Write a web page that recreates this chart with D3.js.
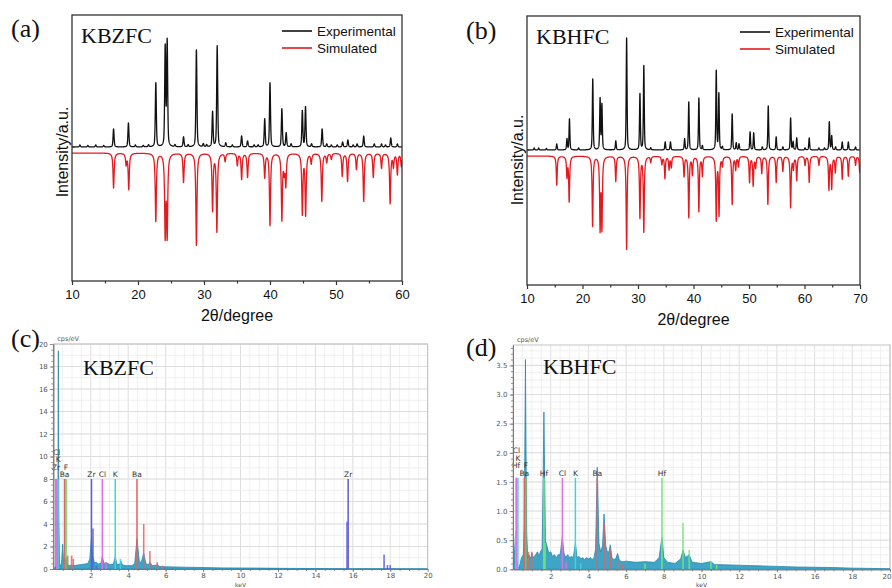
<!DOCTYPE html>
<html><head><meta charset="utf-8">
<script src="https://cdn.jsdelivr.net/npm/d3@7"></script>
<style>
html,body{margin:0;padding:0;background:#fff;}
svg{display:block;}
</style></head>
<body>
<svg id="fig" width="892" height="588"></svg>
<script>
// ---------------- XRD patterns: peak list [2θ (deg), height (a.u.)] ----------------
const xrdTicksA = [10, 20, 30, 40, 50, 60];
const xrdTicksB = [10, 20, 30, 40, 50, 60, 70];
const legendLabels = ["Experimental", "Simulated"];

const kbzfcExpPeaks = [
  [11.2,2],[12.4,1.5],[13.6,2],[14.8,1.5],[16.3,18],[18.55,24],[19.6,2],[20.8,1.5],[21.6,2],
  [22.7,64],[24.12,99],[24.42,105],[25.6,2],[26.9,10],[27.6,2],[28.85,97],[29.9,3],[30.4,2],
  [31.3,35],[32.0,101],[33.3,4],[34.3,2],[35.7,11],[36.6,6],[37.6,2],[38.2,2],[39.2,28],
  [40.0,64],[41.8,38],[42.45,14],[43.2,3],[44.9,36],[45.38,40],[46.3,3],[47.9,18],[48.6,3],
  [49.3,2],[50.2,2],[51.0,5],[51.8,7],[52.6,2],[53.2,3],[54.2,11],[55.8,3],[56.9,3],
  [57.5,2],[58.3,9],[59.3,3]
];
const kbzfcSimPeaks = [
  [16.3,35],[18.2,11],[18.6,36],[22.7,68],[24.12,80],[24.42,80],[26.9,29],[28.85,92],
  [31.3,57],[31.95,78],[33.2,8],[35.05,12],[35.7,26],[36.6,24],[39.2,24],[40.0,72],
  [41.8,66],[42.15,16],[42.4,31],[44.9,60],[45.4,61],[46.25,10],[47.85,48],[48.6,9],
  [49.3,6],[50.95,23],[51.75,28],[53.1,16],[54.2,48],[55.65,24],[56.9,15],[58.2,50],
  [58.7,13],[59.3,21],[59.9,13]
];
const kbhfcExpPeaks = [
  [11.3,2],[12.1,2],[13.5,1.5],[15.36,6],[17.2,11],[17.65,31],[19.3,2],[21.85,71],[23.17,51],
  [23.5,45],[26.0,9],[27.95,112],[30.35,56],[31.05,84],[32.3,2],[34.9,8],[35.85,8],[38.4,11],
  [39.15,48],[40.97,52],[41.6,4],[44.1,79],[44.57,56],[45.2,3],[46.97,36],[47.7,7],[48.2,6],
  [50.2,18],[50.85,17],[52.4,3],[53.47,44],[54.9,13],[56.1,3],[57.5,32],[57.95,8],[58.6,12],
  [60.1,2],[60.85,12],[62.6,2],[63.6,2],[64.47,28],[64.9,14],[65.6,3],[66.8,8],[67.9,8],[69.2,3]
];
const kbhfcSimPeaks = [
  [15.36,29],[17.2,20],[17.6,45],[21.82,70],[23.17,71],[23.5,70],[26.0,25],[27.95,93],
  [30.35,61],[31.05,75],[32.3,6],[34.3,8],[34.85,22],[35.6,13],[36.0,11],[38.3,20],
  [39.15,61],[39.8,18],[40.97,55],[41.6,19],[44.1,63],[44.6,58],[45.2,9],[46.97,48],
  [47.6,13],[48.1,10],[50.1,26],[50.75,29],[51.2,11],[52.3,17],[53.4,48],[54.9,26],
  [56.1,15],[57.5,51],[58.0,12],[58.6,24],[60.1,9],[60.85,26],[62.6,9],[64.4,33],
  [64.9,32],[65.55,16],[66.8,23],[67.9,20],[69.2,9],[69.95,16]
];

// ---------------- EDS spectra: [energy (keV), counts (cps/eV)] ----------------
const edsTicks = [2, 4, 6, 8, 10, 12, 14, 16, 18, 20];
const kbzfcSpectrum = [
  [0,0],[0.2,0.3],[0.25,8],[0.27,19.4],[0.29,6],[0.33,0.5],[0.4,0.2],[0.45,0.8],[0.5,2.2],
  [0.55,0.6],[0.62,0.5],[0.68,1.0],[0.74,0.4],[0.85,0.3],[0.95,0.35],[1.1,0.3],[1.3,0.35],
  [1.5,0.4],[1.7,0.45],[1.85,0.5],[1.95,0.9],[2.04,2.9],[2.1,1.2],[2.2,0.55],[2.3,0.6],
  [2.4,0.45],[2.55,0.5],[2.62,1.15],[2.7,0.5],[2.85,0.55],[3.0,0.4],[3.2,0.4],[3.31,1.1],
  [3.4,0.4],[3.55,0.4],[3.6,0.7],[3.7,0.35],[3.9,0.3],[4.2,0.3],[4.35,0.5],[4.47,2.7],
  [4.6,0.6],[4.7,0.6],[4.83,1.4],[4.95,0.45],[5.1,0.4],[5.16,0.6],[5.3,0.3],[5.55,0.35],
  [5.7,0.22],[6,0.2],[7,0.16],[8,0.13],[9,0.1],[10,0.09],[11,0.08],[12,0.06],[13,0.05],
  [14,0.04],[15,0.03],[16,0.02],[18,0.02],[20,0.01]
];
const kbhfcSpectrum = [
  [0,0],[0.05,0.1],[0.1,0.4],[0.14,0.65],[0.18,0.2],[0.25,0.05],[0.3,0.02],[0.38,0.1],
  [0.45,0.2],[0.55,0.25],[0.6,0.8],[0.66,3.6],[0.72,0.7],[0.78,0.2],[0.85,0.25],[0.95,0.18],
  [1.0,0.28],[1.08,0.2],[1.2,0.25],[1.3,0.3],[1.38,0.22],[1.45,0.3],[1.55,0.35],[1.64,2.7],
  [1.72,0.5],[1.8,0.4],[1.9,0.28],[2.0,0.3],[2.1,0.22],[2.2,0.25],[2.3,0.2],[2.4,0.25],
  [2.5,0.25],[2.62,0.55],[2.7,0.28],[2.8,0.2],[2.9,0.25],[3.0,0.2],[3.1,0.22],[3.2,0.2],
  [3.31,0.45],[3.4,0.2],[3.5,0.22],[3.6,0.18],[3.7,0.2],[3.8,0.17],[3.9,0.2],[4.0,0.18],
  [4.1,0.2],[4.2,0.17],[4.3,0.2],[4.38,0.35],[4.47,1.75],[4.56,0.45],[4.65,0.3],[4.75,0.4],
  [4.83,0.95],[4.92,0.4],[5.0,0.3],[5.1,0.3],[5.16,0.42],[5.25,0.2],[5.35,0.17],[5.45,0.18],
  [5.55,0.27],[5.65,0.15],[5.8,0.13],[6,0.14],[6.5,0.12],[7,0.13],[7.5,0.12],[7.75,0.2],
  [7.9,0.55],[8.0,0.2],[8.2,0.12],[8.6,0.1],[8.9,0.18],[9.02,0.33],[9.15,0.2],[9.35,0.25],
  [9.5,0.12],[10,0.1],[10.5,0.13],[10.7,0.08],[11,0.08],[12,0.07],[13,0.06],[14,0.05],
  [15,0.04],[16,0.035],[17,0.03],[18,0.02],[19,0.015],[20,0.01]
];
// element line markers [element, energy keV]
const kbzfcMarkers = [["Ba",0.6],["F",0.68],["Zr",0.15],["K",0.26],["Cl",0.18],
  ["Zr",2.04],["Cl",2.62],["K",3.31],["Ba",4.47],["Zr",15.75]];
const kbhfcMarkers = [["Ba",0.6],["F",0.68],["Hf",0.16],["K",0.26],["Cl",0.18],
  ["Hf",1.64],["Cl",2.62],["K",3.31],["Ba",4.47],["Hf",7.9]];
// element sub-lines [element, energy keV, height cps/eV]
const kbzfcLines = [["Ba",0.77,1.2],["Ba",0.98,1.2],["Ba",1.07,0.9],["Zr",2.12,3.6],["Zr",2.3,0.3],
  ["Cl",2.82,0.6],["K",3.59,0.9],["Ba",4.83,4.0],["Ba",5.16,1.6],["Ba",5.55,0.6],["Ba",5.84,0.3],
  ["Zr",15.69,4.2],["Zr",17.67,1.3],["Zr",17.85,0.35],["Zr",18.0,0.35]];
const kbhfcLines = [["Ba",0.82,0.3],["Ba",1.0,0.3],["Hf",1.7,0.45],["Cl",2.82,0.12],["K",3.59,0.1],
  ["Ba",4.83,0.8],["Ba",5.16,0.35],["Ba",5.55,0.15],["Ba",5.8,0.1],["Hf",7.0,0.1],
  ["Hf",9.02,0.8],["Hf",9.35,0.33],["Hf",10.5,0.13],["Hf",10.8,0.08]];
const elementColor = {Ba:"#e06464", F:"#55d455", Zr:"#5b5bdc", Cl:"#e070e6", K:"#3ad6e0", Hf:"#74e874"};

// ---------------- drawing ----------------
const svg = d3.select("#fig");
const serif = "'Liberation Serif','Times New Roman',serif";
const sans = "'Liberation Sans',Arial,sans-serif";
const dv = "'DejaVu Sans',Verdana,sans-serif";

// pseudo-Voigt sum of a peak list at 2θ = t
function pv(peaks, t, hw, eta) {
  let s = 0;
  for (const [p, h] of peaks) {
    const d = (t - p) / hw;
    if (Math.abs(d) > 400) continue;
    s += h * (eta / (1 + d * d) + (1 - eta) * Math.exp(-Math.LN2 * d * d));
  }
  return s;
}

function drawXRD(cfg) {
  const g = svg.append("g");
  const x = d3.scaleLinear().domain(cfg.xDomain).range([cfg.left, cfg.right]);
  const y = d3.scaleLinear().domain(cfg.yDomain).range([cfg.bottom, cfg.top]);
  const line = d3.line().x(d => x(d[0])).y(d => y(d[1]));
  const step = 0.01;
  const grid = d3.range(cfg.xDomain[0], cfg.xDomain[1] + step / 2, step);
  const expCurve = grid.map(t => [t, cfg.expBase + pv(cfg.exp, t, 0.09, 0.45)]);
  const simCurve = grid.map(t => [t, cfg.simBase - pv(cfg.sim, t, 0.1, 0.9)]);

  const clipId = "clip" + cfg.id;
  g.append("clipPath").attr("id", clipId).append("rect")
    .attr("x", cfg.left).attr("y", cfg.top)
    .attr("width", cfg.right - cfg.left).attr("height", cfg.bottom - cfg.top);
  const plot = g.append("g").attr("clip-path", `url(#${clipId})`);
  plot.append("path").attr("d", line(simCurve)).attr("fill", "none")
    .attr("stroke", "#e5191e").attr("stroke-width", 1.3).attr("stroke-linejoin", "round");
  plot.append("path").attr("d", line(expCurve)).attr("fill", "none")
    .attr("stroke", "#111").attr("stroke-width", 1.3).attr("stroke-linejoin", "round");

  // axes
  const major = d3.axisBottom(x).tickValues(cfg.ticks).tickSize(4).tickPadding(5).tickFormat(d3.format("d"));
  const minorVals = cfg.ticks.slice(0, -1).map(v => v + 5);
  const minor = d3.axisBottom(x).tickValues(minorVals).tickSize(2.5).tickFormat("");
  const ax = g.append("g").attr("transform", `translate(0,${cfg.bottom})`).call(major);
  const axm = g.append("g").attr("transform", `translate(0,${cfg.bottom})`).call(minor);
  [ax, axm].forEach(a => {
    a.select(".domain").remove();
    a.selectAll("line").attr("stroke", "#333").attr("stroke-width", 1.2);
  });
  ax.selectAll("text").attr("font-family", sans).attr("font-size", 13).attr("fill", "#111");

  g.append("rect").attr("x", cfg.left).attr("y", cfg.top)
    .attr("width", cfg.right - cfg.left).attr("height", cfg.bottom - cfg.top)
    .attr("fill", "none").attr("stroke", "#333").attr("stroke-width", 1.3);

  g.append("text").attr("x", (cfg.left + cfg.right) / 2).attr("y", cfg.bottom + 40)
    .attr("text-anchor", "middle").attr("font-family", sans).attr("font-size", 16)
    .attr("fill", "#111").text("2θ/degree");
  g.append("text").attr("transform", `translate(${cfg.left - 4},${cfg.ylabelY}) rotate(-90)`)
    .attr("text-anchor", "middle").attr("font-family", sans).attr("font-size", 16)
    .attr("fill", "#111").text("Intensity/a.u.");

  g.append("text").attr("x", cfg.letterX).attr("y", cfg.letterY).attr("font-family", serif)
    .attr("font-size", 26).attr("fill", "#111").text(cfg.letter);
  g.append("text").attr("x", cfg.left + 9).attr("y", cfg.top + 28).attr("font-family", serif)
    .attr("font-size", 22).attr("fill", "#111").text(cfg.name);

  // legend
  const lg = g.append("g").attr("transform", `translate(${cfg.legendX},${cfg.top + 16})`);
  legendLabels.forEach((lab, i) => {
    lg.append("line").attr("x1", 0).attr("x2", 30).attr("y1", i * 17).attr("y2", i * 17)
      .attr("stroke", i === 0 ? "#111" : "#e5191e").attr("stroke-width", 1.6);
    lg.append("text").attr("x", 35).attr("y", i * 17).attr("dy", "0.35em")
      .attr("font-family", sans).attr("font-size", 13.5).attr("fill", "#111").text(lab);
  });
}

drawXRD({id: "a", xDomain: [10, 60], yDomain: [-134, 132], left: 72, right: 402, top: 15, bottom: 281,
  exp: kbzfcExpPeaks, sim: kbzfcSimPeaks, expBase: 0, simBase: -6, ticks: xrdTicksA,
  letter: "(a)", letterX: 11, letterY: 37, name: "KBZFC", legendX: 282, ylabelY: 152});
drawXRD({id: "b", xDomain: [10, 70], yDomain: [-135, 134], left: 527, right: 860, top: 16, bottom: 285,
  exp: kbhfcExpPeaks, sim: kbhfcSimPeaks, expBase: 0, simBase: -6, ticks: xrdTicksB,
  letter: "(b)", letterX: 466, letterY: 39, name: "KBHFC", legendX: 740, ylabelY: 160});

function drawEDS(cfg) {
  const g = svg.append("g");
  const x = d3.scaleLinear().domain([0, 20]).range([cfg.left, cfg.right]);
  const y = d3.scaleLinear().domain([0, cfg.yMax]).range([cfg.bottom, cfg.top]);

  // grid
  const gg = g.append("g");
  gg.selectAll("line.v").data(d3.range(0.5, 20.001, 0.5)).join("line")
    .attr("x1", d => x(d)).attr("x2", d => x(d)).attr("y1", cfg.top).attr("y2", cfg.bottom)
    .attr("stroke", d => (Math.abs(d % 2) < 1e-6 ? "#d6d6d6" : "#ececec")).attr("stroke-width", 0.8);
  gg.selectAll("line.h").data(d3.range(cfg.gridStep, cfg.yMax + 1e-6, cfg.gridStep)).join("line")
    .attr("x1", cfg.left).attr("x2", cfg.right).attr("y1", d => y(d)).attr("y2", d => y(d))
    .attr("stroke", "#ececec").attr("stroke-width", 0.8);
  gg.selectAll("line.hm").data(cfg.yTicks).join("line")
    .attr("x1", cfg.left).attr("x2", cfg.right).attr("y1", d => y(d)).attr("y2", d => y(d))
    .attr("stroke", "#d8d8d8").attr("stroke-width", 0.8);
  g.append("rect").attr("x", cfg.left).attr("y", cfg.top).attr("width", cfg.right - cfg.left)
    .attr("height", cfg.bottom - cfg.top).attr("fill", "none").attr("stroke", "#bdbdbd").attr("stroke-width", 0.9);

  const clipId = "clip" + cfg.id;
  g.append("clipPath").attr("id", clipId).append("rect")
    .attr("x", cfg.left).attr("y", cfg.top - 2).attr("width", cfg.right - cfg.left)
    .attr("height", cfg.bottom - cfg.top + 2);
  const plot = g.append("g").attr("clip-path", `url(#${clipId})`);

  // spectrum
  const area = d3.area().x(d => x(d[0])).y0(y(0)).y1(d => y(d[1]));
  plot.append("path").attr("d", area(cfg.spectrum)).attr("fill", "#3ea5c6")
    .attr("stroke", "#2b86ad").attr("stroke-width", 0.8).attr("stroke-linejoin", "round");

  // element sub-lines
  plot.selectAll("line.sub").data(cfg.lines).join("line")
    .attr("x1", d => x(d[1])).attr("x2", d => x(d[1])).attr("y1", y(0)).attr("y2", d => y(d[2]))
    .attr("stroke", d => elementColor[d[0]]).attr("stroke-width", 1.6).attr("opacity", 0.85);

  // element markers
  const mh = y(cfg.markerH);
  plot.selectAll("line.mk").data(cfg.markers).join("line")
    .attr("x1", d => x(d[1])).attr("x2", d => x(d[1])).attr("y1", y(0)).attr("y2", mh)
    .attr("stroke", d => elementColor[d[0]]).attr("stroke-width", 1.5);

  // marker labels, stacked upward when they collide
  const placed = [];
  cfg.markers.forEach(([el, e]) => {
    const cx = x(e), w = el.length * 4.4 + 1;
    let row = 0;
    while (placed.some(p => p.row === row && Math.abs(p.cx - cx) < (p.w + w) / 2)) row++;
    placed.push({cx, w, row, el});
  });
  g.selectAll("text.mk").data(placed).join("text")
    .attr("x", d => d.cx).attr("y", d => mh - 4.5 - d.row * 7.5).attr("dy", "0.35em")
    .attr("text-anchor", "middle").attr("font-family", dv).attr("font-size", 7.5)
    .attr("fill", "#333").text(d => d.el);

  // axes
  const axStyle = a => {
    a.select(".domain").attr("stroke", "#777").attr("stroke-width", 0.9);
    a.selectAll("line").attr("stroke", "#777").attr("stroke-width", 0.8);
    a.selectAll("text").attr("font-family", dv).attr("font-size", 7).attr("fill", "#555");
  };
  const xa = g.append("g").attr("transform", `translate(0,${cfg.bottom})`)
    .call(d3.axisBottom(x).tickValues(edsTicks).tickSize(3).tickPadding(1.5).tickSizeOuter(0));
  axStyle(xa);
  if (cfg.lastTickEnd) xa.selectAll(".tick:last-of-type text").attr("text-anchor", "end").attr("dx", "1px");
  const xm = g.append("g").attr("transform", `translate(0,${cfg.bottom})`)
    .call(d3.axisBottom(x).tickValues(d3.range(0.5, 20, 0.5)).tickSize(2).tickFormat("").tickSizeOuter(0));
  axStyle(xm);
  const ya = g.append("g").attr("transform", `translate(${cfg.left},0)`)
    .call(d3.axisLeft(y).tickValues(cfg.yTicks).tickSize(3.5).tickPadding(2)
      .tickFormat(cfg.yFormat).tickSizeOuter(0));
  axStyle(ya);
  const ym = g.append("g").attr("transform", `translate(${cfg.left},0)`)
    .call(d3.axisLeft(y).tickValues(d3.range(0, cfg.yMax, cfg.minorStep)).tickSize(2).tickFormat("").tickSizeOuter(0));
  axStyle(ym);

  g.append("text").attr("x", cfg.left + 4).attr("y", cfg.top - 3).attr("font-family", dv)
    .attr("font-size", 6.5).attr("fill", "#555").text("cps/eV");
  g.append("text").attr("x", (cfg.left + cfg.right) / 2).attr("y", cfg.bottom + 18)
    .attr("text-anchor", "middle").attr("font-family", dv).attr("font-size", 6)
    .attr("fill", "#555").text("keV");

  g.append("text").attr("x", cfg.letterX).attr("y", cfg.letterY).attr("font-family", serif)
    .attr("font-size", 26).attr("fill", "#111").text(cfg.letter);
  g.append("text").attr("x", cfg.nameX).attr("y", cfg.nameY).attr("font-family", serif)
    .attr("font-size", 22).attr("fill", "#111").text(cfg.name);
}

drawEDS({id: "c", left: 53.3, right: 427.7, top: 344, bottom: 569, yMax: 20,
  yTicks: d3.range(0, 20.001, 2), yFormat: d3.format("d"), gridStep: 1, minorStep: 0.5,
  spectrum: kbzfcSpectrum, markers: kbzfcMarkers, lines: kbzfcLines, markerH: 8,
  letter: "(c)", letterX: 11, letterY: 347, name: "KBZFC", nameX: 83, nameY: 375});
drawEDS({id: "d", left: 513, right: 890, top: 345, bottom: 569.3, yMax: 3.85,
  yTicks: d3.range(0, 3.51, 0.5), yFormat: d3.format(".1f"), gridStep: 0.125, minorStep: 0.1,
  spectrum: kbhfcSpectrum, markers: kbhfcMarkers, lines: kbhfcLines, markerH: 1.57, lastTickEnd: true,
  letter: "(d)", letterX: 466, letterY: 356, name: "KBHFC", nameX: 543, nameY: 374});
</script>
</body></html>
